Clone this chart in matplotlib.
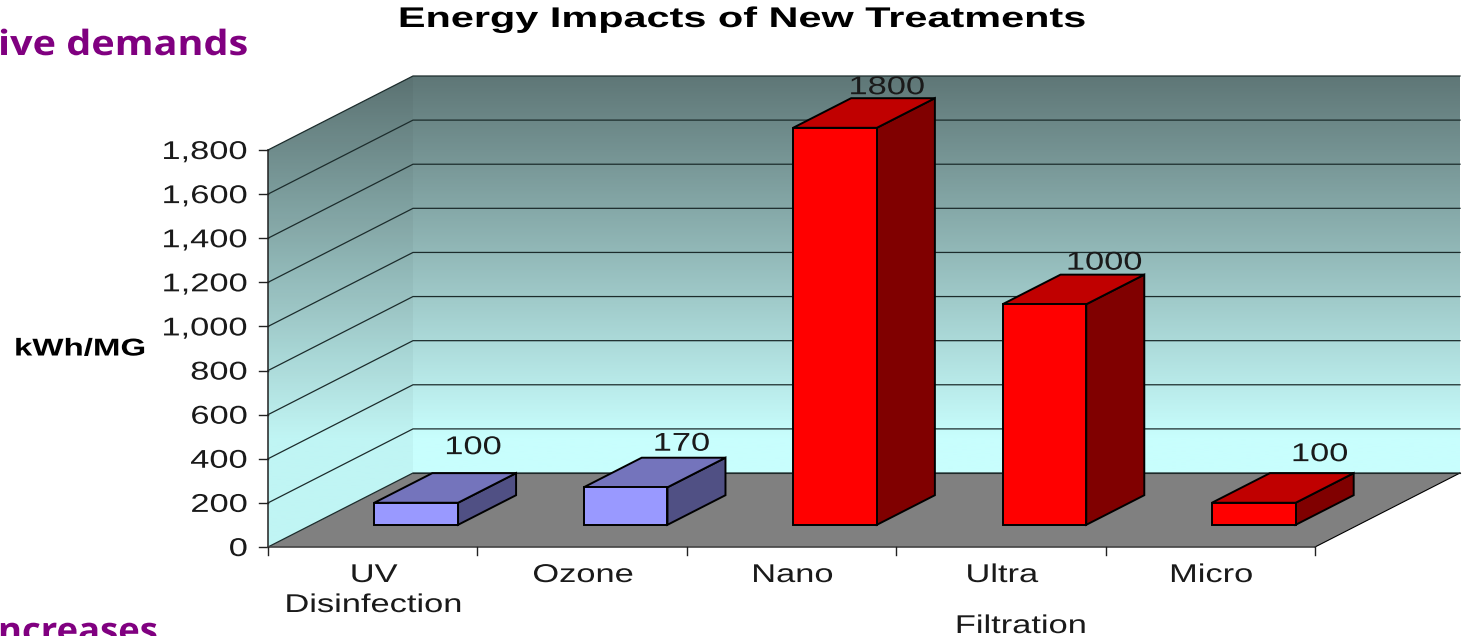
import numpy as np
import matplotlib
matplotlib.use('Agg')
import matplotlib.pyplot as plt
from matplotlib.colors import LinearSegmentedColormap
from matplotlib.patches import Polygon
from matplotlib.patheffects import AbstractPathEffect
from matplotlib.transforms import Affine2D, IdentityTransform

# data
categories = ['UV\nDisinfection', 'Ozone', 'Nano', 'Ultra', 'Micro']
values = [100, 170, 1800, 1000, 100]
bar_kinds = ['uv', 'uv', 'mem', 'mem', 'mem']
y_ticks = [0, 200, 400, 600, 800, 1000, 1200, 1400, 1600, 1800]

W, H = 1463, 636
# pixel size of one category / one kWh unit
CAT_PX = 209.4
VAL_PX = 397 / 1800
X0_PX, Y0_PX = 268, 547
# oblique depth of the box
DX = 145 / CAT_PX
DY = 74 / VAL_PX
TOP = 1800

colors = {
    'uv': ('#9999ff', '#7474bc', '#505084'),
    'mem': ('#ff0000', '#c00000', '#800000'),
}
label_lift = [26, 14, 11, 12, 19]
label_shift = [-1, -2, -6, 2, 8]
INK = '#1a1a1a'


class StretchX(AbstractPathEffect):
    # the slide was pasted wider than it was drawn, so the glyphs are wide
    def __init__(self, anchor, sx):
        super().__init__()
        self.anchor = anchor
        self.sx = sx

    def draw_path(self, renderer, gc, tpath, affine, rgbFace=None):
        wide = affine + Affine2D().translate(-self.anchor, 0).scale(self.sx, 1).translate(self.anchor, 0)
        renderer.draw_path(gc, tpath, wide, rgbFace)


fig = plt.figure(figsize=(W / 100, H / 100), dpi=100)
ax = fig.add_axes([0, 0, 1, 1])
ax.set_xlim(-X0_PX / CAT_PX, (W - X0_PX) / CAT_PX)
ax.set_ylim(-(H - Y0_PX) / VAL_PX, Y0_PX / VAL_PX)
ax.axis('off')


def proj(x, v, d):
    return x + d * DX, v + d * DY


def label(x_px, y_px, s, size=18.5, sx=1.34, ha='center', weight='normal', color=INK, family='Liberation Sans'):
    # x_px, y_px are display pixels measured from the top left
    t = ax.text(x_px, H - y_px, s, transform=IdentityTransform(), ha=ha, va='center', fontsize=size,
                fontweight=weight, color=color, family=family, zorder=7, clip_on=False)
    t.set_path_effects([StretchX(x_px, sx)])
    return t


def to_px(x, v):
    px, py = ax.transData.transform((x, v))
    return px, H - py


# walls, the gradient runs with the height on the screen
cmap = LinearSegmentedColormap.from_list('wall', ['#5f7777', '#c8fefd'])
ramp = np.clip(np.linspace(0, 1, 400) / 0.77, 0, 1)[:, None]
walls = Polygon([proj(0, 0, 0), proj(0, 0, 1), proj(5, 0, 1), proj(5, TOP, 1), proj(0, TOP, 1), proj(0, TOP, 0)],
                fc='none', ec='none', zorder=1)
ax.add_patch(walls)
im = ax.imshow(ramp, cmap=cmap, vmin=0, vmax=1, aspect='auto', zorder=1, interpolation='bilinear',
               extent=(0, 5 + DX, 0, TOP + DY), origin='upper')
im.set_clip_path(walls)
ax.set_xlim(-X0_PX / CAT_PX, (W - X0_PX) / CAT_PX)
ax.set_ylim(-(H - Y0_PX) / VAL_PX, Y0_PX / VAL_PX)
ax.add_patch(Polygon([proj(0, 0, 0), proj(0, 0, 1), proj(0, TOP, 1), proj(0, TOP, 0)],
                     fc='black', alpha=0.035, ec='none', zorder=1))

# floor
floor = [proj(0, 0, 0), proj(5, 0, 0), proj(5, 0, 1), proj(0, 0, 1)]
ax.add_patch(Polygon(floor, fc='#808080', ec='none', zorder=2))
ax.plot([floor[1][0], floor[2][0]], [floor[1][1], floor[2][1]], color='black', lw=0.8, zorder=2)
ax.plot([floor[2][0], floor[3][0]], [floor[2][1], floor[3][1]], color='#222222', lw=0.8, zorder=2)

# gridlines
for t in y_ticks:
    ax.plot([0, DX, 5 + DX], [t, t + DY, t + DY], color='#1c2c2c', lw=0.9, zorder=2)
ax.plot([0, 0], [0, TOP], color='#222222', lw=1.1, zorder=3)

# axis ticks and labels
for t in y_ticks:
    ax.plot([-9 / CAT_PX, 0], [t, t], color='#222222', lw=1, zorder=3)
    px, py = to_px(0, t)
    label(px - 20, py + 2, f'{t:,}', ha='right')
ax.plot([0, 5], [0, 0], color='#444444', lw=1.2, zorder=3)
for i in range(6):
    ax.plot([i, i], [0, -8 / VAL_PX], color='#222222', lw=1, zorder=3)
for i, c in enumerate(categories):
    px, py = to_px(i + 0.5, 0)
    for k, line in enumerate(c.split('\n')):
        label(px + 1, py + 28 + 30 * k, line)

# bars, far to near
for i, (v, kind) in enumerate(zip(values, bar_kinds)):
    front, top, side = colors[kind]
    xl, xr = i + 0.5 - 0.2, i + 0.5 + 0.2
    d0, d1 = 0.3, 0.7
    ax.add_patch(Polygon([proj(xr, 0, d0), proj(xr, 0, d1), proj(xr, v, d1), proj(xr, v, d0)],
                         fc=side, ec='black', lw=1.4, zorder=4))
    ax.add_patch(Polygon([proj(xl, v, d0), proj(xr, v, d0), proj(xr, v, d1), proj(xl, v, d1)],
                         fc=top, ec='black', lw=1.4, zorder=4))
    ax.add_patch(Polygon([proj(xl, 0, d0), proj(xr, 0, d0), proj(xr, v, d0), proj(xl, v, d0)],
                         fc=front, ec='black', lw=1.4, zorder=5))
    px, py = to_px(*proj(i + 0.5, v, d1))
    label(px + label_shift[i], py - label_lift[i], str(v))

# texts in the slide around the chart
label(742, 20, 'Energy Impacts of New Treatments', size=20.5, sx=1.455, weight='bold', color='black')
label(80, 349, 'kWh/MG', size=17.5, sx=1.36, weight='bold', color='black')
label(1021, 626, 'Filtration')
label(-2, 46, 'ive demands', size=25, sx=1.14, ha='left', weight='bold', color='#800080', family='Open Sans')
label(-2, 633, 'ncreases', size=25, sx=1.05, ha='left', weight='bold', color='#800080', family='Open Sans')

fig.savefig('out.png', dpi=100, facecolor='white')
